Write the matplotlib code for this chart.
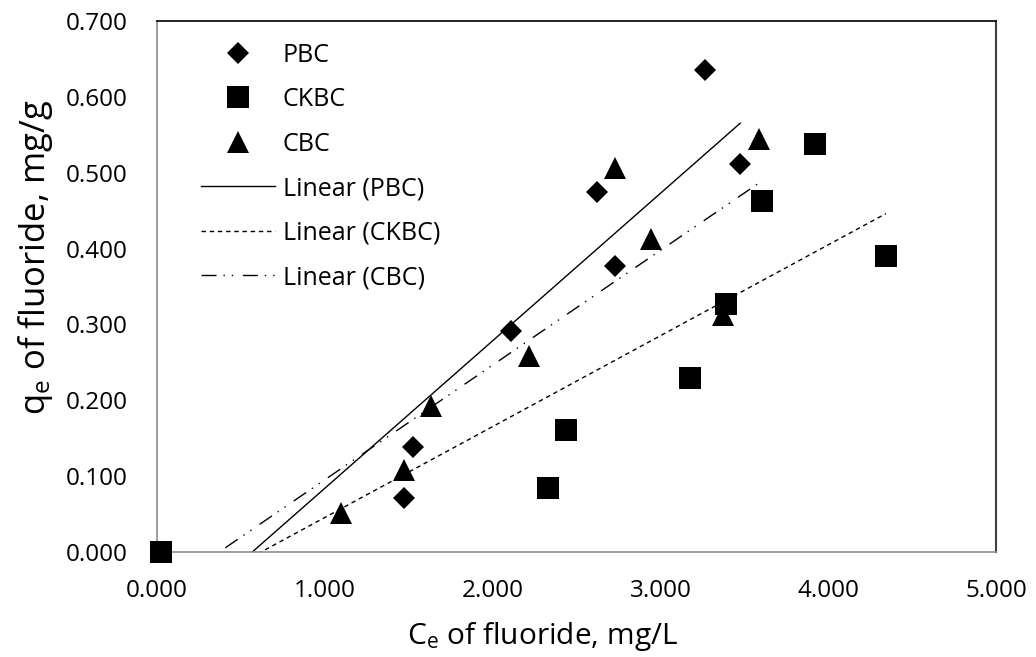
import matplotlib
matplotlib.use("Agg")
import matplotlib.pyplot as plt
import numpy as np

plt.rcParams['font.family'] = ['Open Sans', 'DejaVu Sans']
plt.rcParams['mathtext.fontset'] = 'custom'
plt.rcParams['mathtext.rm'] = 'Open Sans'
plt.rcParams['mathtext.it'] = 'Open Sans:italic'

# ---- data ----
pbc_x = [1.472, 1.524, 2.110, 2.624, 2.729, 3.266, 3.476]
pbc_y = [0.071, 0.138, 0.291, 0.474, 0.377, 0.636, 0.511]

ckbc_x = [0.021, 2.332, 2.437, 3.178, 3.391, 3.604, 3.919, 4.344]
ckbc_y = [0.000, 0.084, 0.161, 0.230, 0.327, 0.463, 0.538, 0.390]

cbc_x = [1.095, 1.472, 1.631, 2.219, 2.731, 2.942, 3.371, 3.588]
cbc_y = [0.052, 0.108, 0.192, 0.259, 0.506, 0.412, 0.312, 0.544]

series_names = ["PBC", "CKBC", "CBC"]
# linear trendline coefficients (y = slope * x + intercept)
trend_slope = [0.1944, 0.1198, 0.1512]
trend_intercept = [-0.1104, -0.0743, -0.0560]

x_ticks = [0, 1, 2, 3, 4, 5]
y_ticks = [0.0, 0.1, 0.2, 0.3, 0.4, 0.5, 0.6, 0.7]

# ---- figure ----
fig = plt.figure(figsize=(10.36, 6.57), dpi=100)
ax = fig.add_axes([157 / 1036, 1 - 552 / 657, (996 - 157) / 1036, (552 - 21) / 657])

xs_all = [pbc_x, ckbc_x, cbc_x]
ys_all = [pbc_y, ckbc_y, cbc_y]
markers = ['D', 's', '^']
msizes = [11.2, 15.5, 15.5]
line_styles = [
    dict(linestyle='-'),
    dict(linestyle=(0, (3.2, 2.7))),
    dict(linestyle=(0, (10.8, 5, 1, 5, 1, 7))),
]

marker_handles = []
for xs, ys, m, ms, name in zip(xs_all, ys_all, markers, msizes, series_names):
    h, = ax.plot(xs, ys, linestyle='none', marker=m, markersize=ms,
                 color='black', markeredgewidth=0, clip_on=False, zorder=3,
                 label=name)
    marker_handles.append(h)

line_handles = []
for xs, k, b, st, name in zip(xs_all, trend_slope, trend_intercept, line_styles, series_names):
    xx = np.array([x_ticks[0], max(xs)])
    h, = ax.plot(xx, k * xx + b, color='black', linewidth=1.0, zorder=2,
                 label=f"Linear ({name})", **st)
    line_handles.append(h)

ax.set_xlim(x_ticks[0], x_ticks[-1])
ax.set_ylim(y_ticks[0], y_ticks[-1])
ax.set_xticks(x_ticks)
ax.set_yticks(y_ticks)
ax.set_xticklabels([f"{v:.3f}" for v in x_ticks])
ax.set_yticklabels([f"{v:.3f}" for v in y_ticks])
ax.tick_params(axis='both', length=0, labelsize=17.5, colors='black')
ax.tick_params(axis='y', pad=21)
ax.tick_params(axis='x', pad=19.5)

for s in ['left', 'bottom']:
    ax.spines[s].set_color('#8c8c8c')
    ax.spines[s].set_linewidth(1.2)
ax.spines['top'].set_color('black')
ax.spines['top'].set_linewidth(1.2)
ax.spines['right'].set_color('#404040')
ax.spines['right'].set_linewidth(1.5)

ax.set_xlabel(r"C$_\mathregular{e}$ of fluoride, mg/L", fontsize=21.5)
ax.set_ylabel(r"q$_\mathregular{e}$ of fluoride, mg/g", fontsize=25)
ax.xaxis.set_label_coords(0.46, -0.128)
ax.yaxis.set_label_coords(-0.1216, 0.554)

leg = ax.legend(handles=marker_handles + line_handles, loc='upper left',
                bbox_to_anchor=(0.04, 0.978), frameon=False, fontsize=18,
                numpoints=1, handlelength=2.96, handletextpad=0.32,
                labelspacing=0.78, borderaxespad=0.0)

fig.savefig("out.png", dpi=100)
